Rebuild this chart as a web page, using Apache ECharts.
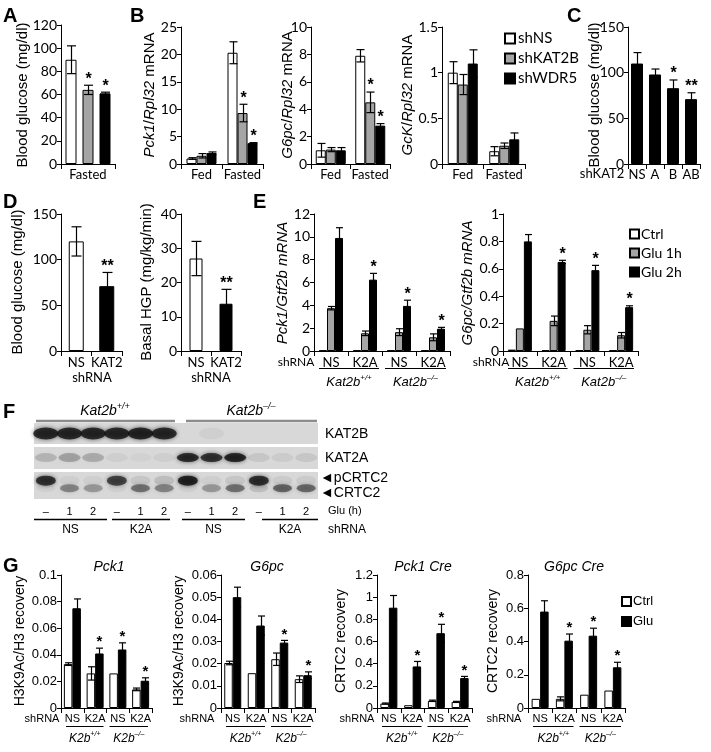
<!DOCTYPE html>
<html><head><meta charset="utf-8">
<script src="https://cdn.jsdelivr.net/npm/echarts@6/dist/echarts.min.js"></script>
<style>html,body{margin:0;padding:0;background:#fff}#c{width:711px;height:752px}</style>
</head><body><div id="c"></div>
<script>
// ---------------- DATA ----------------
const shNames = ['shNS', 'shKAT2B', 'shWDR5'];
// A
const aCats = ['Fasted'];
const aMeans = [[90], [64], [61]];
const aErrs = [[12], [4], [1]];
const aStars = [[''], ['*'], ['*']];
// B
const bCats = ['Fed', 'Fasted'];
const bPckMeans = [[1.0, 20.3], [1.5, 9.3], [2.0, 3.8]];
const bPckErrs = [[0.15, 2.0], [0.4, 1.6], [0.2, 0.1]];
const bPckStars = [['', ''], ['', '*'], ['', '*']];
const bG6Means = [[1.0, 7.9], [1.05, 4.5], [1.0, 2.8]];
const bG6Errs = [[0.5, 0.45], [0.15, 0.75], [0.2, 0.15]];
const bG6Stars = [['', ''], ['', '*'], ['', '*']];
const bGckMeans = [[1.0, 0.14], [0.87, 0.2], [1.1, 0.27]];
const bGckErrs = [[0.12, 0.05], [0.11, 0.03], [0.15, 0.07]];
const bGckStars = [['', ''], ['', ''], ['', '']];
// C
const cCats = ['NS', 'A', 'B', 'AB'];
const cMeans = [110, 98, 83, 71];
const cErrs = [12, 6, 9, 7];
const cStars = ['', '', '*', '**'];
// D
const dCats = ['NS', 'KAT2'];
const dGlucMeans = [120, 71];
const dGlucErrs = [16, 15];
const dGlucStars = ['', '**'];
const dHgpMeans = [27, 13.8];
const dHgpErrs = [5, 4.2];
const dHgpStars = ['', '**'];
// E
const eCats = ['NS', 'K2A', 'NS', 'K2A'];
const eGroups = ['Ctrl', 'Glu 1h', 'Glu 2h'];
const ePckMeans = [[0.05, 0.05, 0.05, 0.05], [3.75, 1.55, 1.65, 1.2], [9.9, 6.25, 3.95, 1.95]];
const ePckErrs = [[0, 0, 0, 0], [0.15, 0.2, 0.3, 0.3], [0.9, 0.55, 0.5, 0.12]];
const ePckStars = [['', '', '', ''], ['', '', '', ''], ['', '*', '*', '*']];
const eG6Means = [[0.01, 0.005, 0.005, 0.005], [0.165, 0.22, 0.155, 0.115], [0.80, 0.65, 0.59, 0.32]];
const eG6Errs = [[0, 0, 0, 0], [0, 0.035, 0.03, 0.02], [0.05, 0.012, 0.035, 0.01]];
const eG6Stars = [['', '', '', ''], ['', '', '', ''], ['', '*', '*', '*']];
// F (blot band intensities per lane)
const laneLabels = ['–', '1', '2', '–', '1', '2', '–', '1', '2', '–', '1', '2'];
const kat2bBands = [0.95, 0.95, 0.95, 0.95, 0.97, 0.95, 0, 0.05, 0, 0, 0, 0];
const kat2aBands = [0.2, 0.3, 0.25, 0.06, 0.04, 0.06, 0.95, 0.9, 0.98, 0.1, 0.08, 0.1];
const pcrtc2Bands = [0.9, 0.06, 0.06, 0.8, 0.1, 0.15, 1.0, 0.06, 0.1, 0.92, 0.08, 0.08];
const crtc2Bands = [0.05, 0.45, 0.35, 0.05, 0.55, 0.45, 0.05, 0.35, 0.55, 0.15, 0.62, 0.6];
const shGroups = ['NS', 'K2A', 'NS', 'K2A'];
// G
const gCats = ['NS', 'K2A', 'NS', 'K2A'];
const gGroups = ['Ctrl', 'Glu'];
const gH3PckMeans = [[0.033, 0.026, 0.026, 0.014], [0.075, 0.041, 0.044, 0.0205]];
const gH3PckErrs = [[0.001, 0.005, 0, 0.001], [0.007, 0.004, 0.005, 0.0022]];
const gH3PckStars = [['', '', '', ''], ['', '*', '*', '*']];
const gH3G6Means = [[0.0203, 0.0157, 0.022, 0.013], [0.050, 0.0372, 0.0295, 0.0148]];
const gH3G6Errs = [[0.0008, 0, 0.0028, 0.0015], [0.0045, 0.0043, 0.001, 0.0015]];
const gH3G6Stars = [['', '', '', ''], ['', '', '*', '*']];
const gCrPckMeans = [[0.04, 0.025, 0.065, 0.055], [0.905, 0.375, 0.675, 0.27]];
const gCrPckErrs = [[0.005, 0, 0.006, 0.005], [0.11, 0.045, 0.08, 0.015]];
const gCrPckStars = [['', '', '', ''], ['', '*', '*', '*']];
const gCrG6Means = [[0.055, 0.055, 0.08, 0.105], [0.58, 0.405, 0.435, 0.245]];
const gCrG6Errs = [[0, 0.012, 0, 0], [0.065, 0.04, 0.045, 0.03]];
const gCrG6Stars = [['', '', '', ''], ['', '*', '*', '*']];

// ---------------- BUILD ----------------
const WHITE = '#ffffff', GREY = '#a5a5a5', BLACK = '#000000';
const LATO = 'Lato', ARIAL = '"Liberation Sans"';
const grids = [], xAxis = [], yAxis = [], series = [], els = [];

function addChart(o) {
  const gi = grids.length;
  grids.push({left: o.left, top: o.top, width: o.width, height: o.height});
  xAxis.push({type: 'category', gridIndex: gi, data: o.cats,
    axisLine: {lineStyle: {color: '#000', width: 1}},
    axisTick: {show: true, length: 5, lineStyle: {color: '#000'}},
    axisLabel: {color: '#000', fontFamily: o.xFont || LATO, fontSize: o.xSize || 13, margin: o.xMargin || 4, interval: 0}});
  yAxis.push({type: 'value', gridIndex: gi, min: 0, max: o.max, interval: o.interval,
    splitLine: {show: false},
    axisLine: {show: true, lineStyle: {color: '#000', width: 1}},
    axisTick: {show: true, length: 4, lineStyle: {color: '#000'}},
    axisLabel: {color: '#000', fontFamily: o.yFont || LATO, fontSize: o.ySize || 14, margin: 4}});
  const n = o.means.length;
  o.means.forEach((m, k) => {
    series.push({type: 'bar', name: o.names ? o.names[k] : 'bars' + gi + '_' + k,
      xAxisIndex: gi, yAxisIndex: gi,
      data: m.map((v, i) => o.itemColors ? {value: v, itemStyle: {color: o.itemColors[i]}} : v),
      barWidth: o.bw, barGap: (o.gap / o.bw * 100) + '%',
      itemStyle: {color: o.colors[k], borderColor: '#000', borderWidth: 1}});
    const errs = o.errs[k];
    const stars = o.stars ? o.stars[k] : [];
    series.push({type: 'custom', xAxisIndex: gi, yAxisIndex: gi, z: 5,
      data: m.map((v, i) => [i, v, errs[i]]),
      renderItem: (p, api) => {
        const i = api.value(0), v = api.value(1), e = api.value(2);
        const base = api.coord([i, v]);
        const x = Math.round(base[0] + (k - (n - 1) / 2) * (o.bw + o.gap)) + 0.5;
        const yt = api.coord([i, v + e])[1], yb = api.coord([i, v - e])[1];
        const cw = o.cap / 2, ch = [];
        const st = {stroke: '#000', lineWidth: 1.2};
        if (e > 0) {
          ch.push({type: 'line', shape: {x1: x, y1: yt, x2: x, y2: yb}, style: st});
          ch.push({type: 'line', shape: {x1: x - cw, y1: yt, x2: x + cw, y2: yt}, style: st});
          ch.push({type: 'line', shape: {x1: x - cw, y1: yb, x2: x + cw, y2: yb}, style: st});
        }
        const s = stars[p.dataIndex];
        if (s) ch.push({type: 'text', style: {text: s, x: x, y: yt - 6, align: 'center', verticalAlign: 'middle',
          font: 'bold ' + (o.starSize || 16) + 'px ' + ARIAL, fill: '#000'}});
        return {type: 'group', children: ch};
      }});
  });
  return gi;
}

const shColors = [WHITE, GREY, BLACK];
// A
addChart({left: 61, top: 25, width: 54, height: 139, cats: aCats, max: 120, interval: 20, names: shNames, colors: shColors,
  means: aMeans, errs: aErrs, stars: aStars, bw: 11, gap: 6, cap: 9});
// B
addChart({left: 181, top: 27, width: 82, height: 137, cats: bCats, max: 25, interval: 5, names: shNames, colors: shColors,
  means: bPckMeans, errs: bPckErrs, stars: bPckStars, bw: 10, gap: 0, cap: 8});
addChart({left: 311, top: 27, width: 79, height: 137, cats: bCats, max: 10, interval: 2, names: shNames, colors: shColors,
  means: bG6Means, errs: bG6Errs, stars: bG6Stars, bw: 10, gap: 0, cap: 8});
addChart({left: 442, top: 27, width: 83, height: 137, cats: bCats, max: 1.5, interval: 0.5, names: shNames, colors: shColors,
  means: bGckMeans, errs: bGckErrs, stars: bGckStars, bw: 10, gap: 0, cap: 8});
// C
addChart({left: 628, top: 27, width: 72, height: 137, cats: cCats, max: 150, interval: 50, colors: [BLACK],
  means: [cMeans], errs: [cErrs], stars: [cStars], bw: 12, gap: 0, cap: 8});
// D
addChart({left: 61, top: 214, width: 61, height: 137, cats: dCats, max: 150, interval: 50, colors: [WHITE], itemColors: [WHITE, BLACK],
  means: [dGlucMeans], errs: [dGlucErrs], stars: [dGlucStars], bw: 15, gap: 0, cap: 10, xMargin: 5});
addChart({left: 181, top: 214, width: 60, height: 137, cats: dCats, max: 40, interval: 10, colors: [WHITE], itemColors: [WHITE, BLACK],
  means: [dHgpMeans], errs: [dHgpErrs], stars: [dHgpStars], bw: 13, gap: 0, cap: 10, xMargin: 5});
// E
const eColors = [WHITE, GREY, BLACK];
addChart({left: 314, top: 214, width: 136, height: 137, cats: eCats, max: 12, interval: 2, names: eGroups, colors: eColors,
  means: ePckMeans, errs: ePckErrs, stars: ePckStars, bw: 8, gap: 0, cap: 7, xMargin: 5});
addChart({left: 503, top: 214, width: 135, height: 137, cats: eCats, max: 1, interval: 0.2, names: eGroups, colors: eColors,
  means: eG6Means, errs: eG6Errs, stars: eG6Stars, bw: 8, gap: 0, cap: 7, xMargin: 5});
// G
const gColors = [WHITE, BLACK];
const gCfg = {cats: gCats, names: gGroups, colors: gColors, bw: 8.5, gap: 0, cap: 7, xFont: ARIAL, xSize: 11, yFont: ARIAL, ySize: 13, xMargin: 5, starSize: 15};
addChart(Object.assign({left: 61, top: 575, width: 91, height: 133, max: 0.1, interval: 0.02, means: gH3PckMeans, errs: gH3PckErrs, stars: gH3PckStars}, gCfg));
addChart(Object.assign({left: 221, top: 575, width: 94, height: 133, max: 0.06, interval: 0.01, means: gH3G6Means, errs: gH3G6Errs, stars: gH3G6Stars}, gCfg));
addChart(Object.assign({left: 377, top: 575, width: 95, height: 133, max: 1.2, interval: 0.2, means: gCrPckMeans, errs: gCrPckErrs, stars: gCrPckStars}, gCfg));
addChart(Object.assign({left: 528, top: 575, width: 97, height: 133, max: 0.8, interval: 0.2, means: gCrG6Means, errs: gCrG6Errs, stars: gCrG6Stars}, gCfg));

// F blot strips
const strips = [
  {top: 423, height: 21, bands: [{vals: kat2bBands, y: 0.5, w: 25, h: 12}]},
  {top: 447, height: 22, bands: [{vals: kat2aBands, y: 0.52, w: 22, h: 9}]},
  {top: 472, height: 27, bands: [{vals: pcrtc2Bands, y: 0.68, w: 20, h: 10}, {vals: crtc2Bands, y: 0.4, w: 19, h: 8}]}
];
strips.forEach((s, si) => {
  const gi = grids.length;
  grids.push({left: 34, top: s.top, width: 284, height: s.height, show: true, backgroundColor: '#d8d8d8', borderWidth: 0});
  xAxis.push({type: 'category', gridIndex: gi, data: laneLabels, axisLine: {show: false}, axisTick: {show: false},
    axisLabel: {show: si === 2, interval: 0, color: '#000', fontFamily: ARIAL, fontSize: 11, margin: 7}});
  yAxis.push({type: 'value', gridIndex: gi, min: 0, max: 1, show: false});
  s.bands.forEach(b => {
    series.push({type: 'scatter', xAxisIndex: gi, yAxisIndex: gi, symbol: 'circle',
      data: b.vals.map((a, i) => a > 0 ? {value: [i, b.y], symbolSize: [b.w, b.h],
        itemStyle: {color: 'rgba(12,12,12,' + a + ')', shadowBlur: 4, shadowColor: 'rgba(0,0,0,' + (a * 0.8) + ')'}} : null).filter(d => d)});
  });
});

// ---------------- TEXT / DECOR ----------------
function T(x, y, text, font, align, extra, rich) {
  const el = {type: 'text', x: x, y: y, silent: true, z: 100,
    style: {text: text, font: font, fill: '#000', align: align || 'center', verticalAlign: 'middle',
      textAlign: align || 'center', textVerticalAlign: 'middle'}};
  if (rich) el.style.rich = rich;
  return Object.assign(el, extra || {});
}
function L(x1, y1, x2, y2, color, w) {
  return {type: 'line', silent: true, z: 100, shape: {x1, y1, x2, y2}, style: {stroke: color || '#000', lineWidth: w || 1}};
}
const R90 = {rotation: Math.PI / 2};
const f14 = '14px ' + ARIAL, f15 = '15px ' + ARIAL;
const it = (sz) => ({i: {font: 'italic ' + sz + 'px ' + ARIAL}, n: {font: sz + 'px ' + ARIAL}});
const supRich = (sz, ssz) => ({i: {font: 'italic ' + sz + 'px ' + ARIAL, lineHeight: sz + 4},
  s: {font: 'italic ' + ssz + 'px ' + ARIAL, verticalAlign: 'top', lineHeight: sz + 4}});

// panel letters
[['A', 3, 6], ['B', 130, 6], ['C', 567, 6], ['D', 3, 192], ['E', 253, 192], ['F', 3, 402], ['G', 3, 556]].forEach(l => {
  els.push({type: 'text', x: l[1], y: l[2], silent: true, z: 100,
    style: {text: l[0], font: 'bold 20px ' + ARIAL, fill: '#000', align: 'left', verticalAlign: 'top', textAlign: 'left', textVerticalAlign: 'top'}});
});

// axis titles
els.push(T(23, 95, 'Blood glucose (mg/dl)', f15, 'center', R90));
els.push(T(150, 95, '{i|Pck1}/{i|Rpl32} mRNA', f15, 'center', R90, it(15)));
els.push(T(288, 95, '{i|G6pc}/{i|Rpl32} mRNA', f15, 'center', R90, it(15)));
els.push(T(408, 95, '{i|GcK}/{i|Rpl32} mRNA', f15, 'center', R90, it(15)));
els.push(T(595, 95, 'Blood glucose (mg/dl)', f15, 'center', R90));
els.push(T(18, 282, 'Blood glucose (mg/dl)', f15, 'center', R90));
els.push(T(147, 282, 'Basal HGP (mg/kg/min)', f15, 'center', R90));
els.push(T(283, 283, 'Pck1/Gtf2b mRNA', 'italic 15px ' + ARIAL, 'center', R90));
els.push(T(468, 283, 'G6pc/Gtf2b mRNA', 'italic 15px ' + ARIAL, 'center', R90));
els.push(T(20, 641, 'H3K9Ac/H3 recovery', f14, 'center', R90));
els.push(T(179, 641, 'H3K9Ac/H3 recovery', f14, 'center', R90));
els.push(T(341, 641, 'CRTC2 recovery', f14, 'center', R90));
els.push(T(493, 641, 'CRTC2 recovery', f14, 'center', R90));

// C, D extra labels
els.push(T(602, 174, 'shKAT2', '13px ' + LATO));
els.push(T(92, 378, 'shRNA', '13px ' + LATO));
els.push(T(211, 378, 'shRNA', '13px ' + LATO));

// E / G group labels
function groupDecor(left, width, lineY, labY, shX, shY, shFont, genoSize, word) {
  const b = width / 4;
  els.push(T(shX, shY, 'shRNA', shFont));
  const segs = [[left + 5, left + 2 * b - 3], [left + 2 * b + 3, left + 4 * b - 4]];
  segs.forEach((s, j) => {
    els.push(L(s[0], lineY + 0.5, s[1], lineY + 0.5, '#000', 1));
    const sup = j === 0 ? '+/+' : '–/–';
    els.push(T((s[0] + s[1]) / 2, labY, '{i|' + word + '}{s|' + sup + '}', 'italic ' + genoSize + 'px ' + ARIAL, 'center', null, supRich(genoSize, Math.round(genoSize * 0.62))));
  });
}
groupDecor(314, 136, 368, 382, 296, 362, '12px ' + LATO, 13, 'Kat2b');
groupDecor(503, 135, 368, 382, 491, 362, '12px ' + LATO, 13, 'Kat2b');
groupDecor(61, 91, 726, 739, 42, 719, '11px ' + ARIAL, 12, 'K2b');
groupDecor(221, 94, 726, 739, 197, 719, '11px ' + ARIAL, 12, 'K2b');
groupDecor(377, 95, 726, 739, 357, 719, '11px ' + ARIAL, 12, 'K2b');
groupDecor(528, 97, 726, 739, 504, 719, '11px ' + ARIAL, 12, 'K2b');

// G titles
els.push(T(109, 567, 'Pck1', 'italic 14px ' + ARIAL));
els.push(T(267, 567, 'G6pc', 'italic 14px ' + ARIAL));
els.push(T(423, 567, 'Pck1 Cre', 'italic 14px ' + ARIAL));
els.push(T(574, 567, 'G6pc Cre', 'italic 14px ' + ARIAL));

// F decorations
els.push(T(105, 411, '{i|Kat2b}{s|+/+}', 'italic 14px ' + ARIAL, 'center', null, supRich(14, 9)));
els.push(T(251, 411, '{i|Kat2b}{s|–/–}', 'italic 14px ' + ARIAL, 'center', null, supRich(14, 9)));
els.push(L(36, 421, 175, 421, '#8c8c8c', 2.5));
els.push(L(186, 421, 317, 421, '#8c8c8c', 2.5));
els.push(T(325, 434, 'KAT2B', f14, 'left'));
els.push(T(325, 458, 'KAT2A', f14, 'left'));
els.push(T(320, 478, '◄pCRTC2', f14, 'left'));
els.push(T(320, 493, '◄CRTC2', f14, 'left'));
els.push(T(328, 511, 'Glu (h)', '11px ' + ARIAL, 'left'));
els.push(T(328, 530, 'shRNA', '12px ' + ARIAL, 'left'));
[[34, 107], [112, 170], [182, 245], [262, 318]].forEach((s, j) => {
  els.push(L(s[0], 519.5, s[1], 519.5, '#000', 1.5));
  els.push(T((s[0] + s[1]) / 2, 530, shGroups[j], '12px ' + ARIAL));
});

const chart = echarts.init(document.getElementById('c'));
chart.setOption({
  animation: false,
  backgroundColor: '#fff',
  grid: grids, xAxis: xAxis, yAxis: yAxis, series: series,
  legend: [
    {data: shNames, left: 499, top: 26, orient: 'vertical', icon: 'rect', itemWidth: 10, itemHeight: 10, itemGap: 5,
      selectedMode: false, textStyle: {fontFamily: LATO, fontSize: 15, color: '#000', padding: [0, 0, 0, -2]}},
    {data: eGroups, left: 624, top: 222, orient: 'vertical', icon: 'rect', itemWidth: 9, itemHeight: 9, itemGap: 5,
      selectedMode: false, textStyle: {fontFamily: LATO, fontSize: 14, color: '#000', padding: [0, 0, 0, -3]}},
    {data: gGroups, left: 616, top: 590, orient: 'vertical', icon: 'rect', itemWidth: 9, itemHeight: 9, itemGap: 7,
      selectedMode: false, textStyle: {fontFamily: ARIAL, fontSize: 13, color: '#000', padding: [0, 0, 0, -3]}}
  ],
  graphic: {elements: els}
});
</script>
</body></html>
